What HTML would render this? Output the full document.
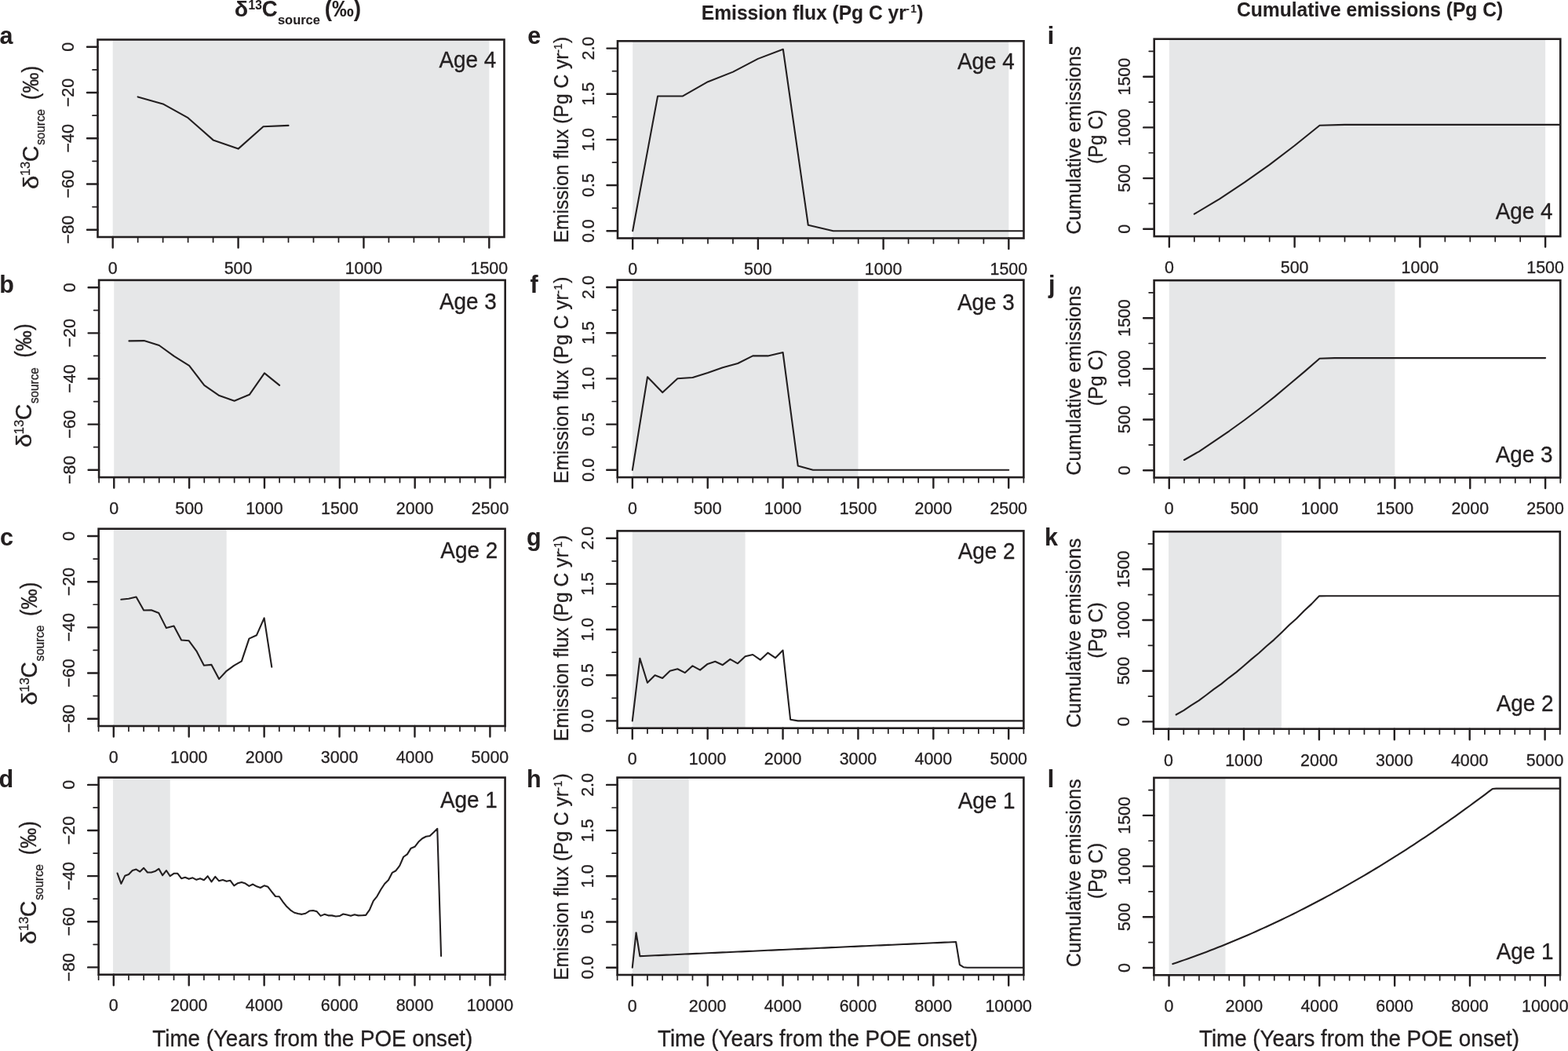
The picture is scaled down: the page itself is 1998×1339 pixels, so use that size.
<!DOCTYPE html>
<html><head><meta charset="utf-8"><title>Figure</title>
<style>html,body{margin:0;padding:0;background:#fff;}svg{display:block;}text{font-family:"Liberation Sans",Arial,Helvetica,sans-serif;fill:#231f20;stroke:#231f20;stroke-width:0.3px;}text[font-weight=bold]{stroke-width:0.1px;}</style>
</head><body>
<svg width="1998" height="1339" viewBox="0 0 1998 1339">
<rect width="1998" height="1339" fill="#fff"/>
<clipPath id="clipa"><rect x="124.5" y="50.5" width="518" height="251.5"/></clipPath>
<rect x="143.69" y="50.5" width="479.63" height="251.5" fill="#e6e7e8"/>
<polyline clip-path="url(#clipa)" points="175.66,123.4 207.64,132.4 239.61,150.2 271.59,178.4 303.56,189.6 335.54,161.2 367.51,159.9" fill="none" stroke="#231f20" stroke-width="2.1" stroke-linejoin="round" stroke-linecap="round"/>
<rect x="124.5" y="50.5" width="518" height="251.5" fill="none" stroke="#231f20" stroke-width="2.6"/>
<path d="M143.69 302V315.5M303.56 302V315.5M463.44 302V315.5M623.31 302V315.5M124.5 59.81H111M124.5 118.03H111M124.5 176.25H111M124.5 234.47H111M124.5 292.69H111" stroke="#231f20" stroke-width="2.4" stroke-linecap="round" fill="none"/>
<path d="M175.66 302V308.5M207.64 302V308.5M239.61 302V308.5M271.59 302V308.5M335.54 302V308.5M367.51 302V308.5M399.49 302V308.5M431.46 302V308.5M495.41 302V308.5M527.39 302V308.5M559.36 302V308.5M591.34 302V308.5M124.5 88.92H118M124.5 147.14H118M124.5 205.36H118M124.5 263.58H118" stroke="#231f20" stroke-width="1.7" stroke-linecap="round" fill="none"/>
<text x="143.69" y="349.1" font-size="21.4" text-anchor="middle" transform="matrix(1 0 0 1.040 0 -13.96)">0</text>
<text x="303.56" y="349.1" font-size="21.4" text-anchor="middle" transform="matrix(1 0 0 1.040 0 -13.96)">500</text>
<text x="463.44" y="349.1" font-size="21.4" text-anchor="middle" transform="matrix(1 0 0 1.040 0 -13.96)">1000</text>
<text x="623.31" y="349.1" font-size="21.4" text-anchor="middle" transform="matrix(1 0 0 1.040 0 -13.96)">1500</text>
<g transform="translate(94.3 59.81) rotate(-90)"><text x="0" y="0" font-size="21.4" text-anchor="middle" transform="matrix(1 0 0 1.040 0 -0)">0</text></g>
<g transform="translate(94.3 118.03) rotate(-90)"><text x="0" y="0" font-size="21.4" text-anchor="middle" transform="matrix(1 0 0 1.040 0 -0)">−20</text></g>
<g transform="translate(94.3 176.25) rotate(-90)"><text x="0" y="0" font-size="21.4" text-anchor="middle" transform="matrix(1 0 0 1.040 0 -0)">−40</text></g>
<g transform="translate(94.3 234.47) rotate(-90)"><text x="0" y="0" font-size="21.4" text-anchor="middle" transform="matrix(1 0 0 1.040 0 -0)">−60</text></g>
<g transform="translate(94.3 292.69) rotate(-90)"><text x="0" y="0" font-size="21.4" text-anchor="middle" transform="matrix(1 0 0 1.040 0 -0)">−80</text></g>
<text x="559.45" y="85.7" font-size="27.9" transform="matrix(1 0 0 1.040 0 -3.43)">Age 4</text>
<clipPath id="clipb"><rect x="126.1" y="356.9" width="517.6" height="251.2"/></clipPath>
<rect x="145.27" y="356.9" width="287.56" height="251.2" fill="#e6e7e8"/>
<polyline clip-path="url(#clipb)" points="164.44,434.4 183.61,434.1 202.78,440 221.95,453.9 241.12,465.8 260.29,490.9 279.46,504.1 298.63,510.7 317.8,502.8 336.97,475.4 356.14,490.9" fill="none" stroke="#231f20" stroke-width="2.1" stroke-linejoin="round" stroke-linecap="round"/>
<rect x="126.1" y="356.9" width="517.6" height="251.2" fill="none" stroke="#231f20" stroke-width="2.6"/>
<path d="M145.27 608.1V621.6M241.12 608.1V621.6M336.97 608.1V621.6M432.83 608.1V621.6M528.68 608.1V621.6M624.53 608.1V621.6M126.1 366.2H112.6M126.1 424.35H112.6M126.1 482.5H112.6M126.1 540.65H112.6M126.1 598.8H112.6" stroke="#231f20" stroke-width="2.4" stroke-linecap="round" fill="none"/>
<path d="M126.1 608.1V614.6M164.44 608.1V614.6M183.61 608.1V614.6M202.78 608.1V614.6M221.95 608.1V614.6M260.29 608.1V614.6M279.46 608.1V614.6M298.63 608.1V614.6M317.8 608.1V614.6M356.14 608.1V614.6M375.31 608.1V614.6M394.49 608.1V614.6M413.66 608.1V614.6M452 608.1V614.6M471.17 608.1V614.6M490.34 608.1V614.6M509.51 608.1V614.6M547.85 608.1V614.6M567.02 608.1V614.6M586.19 608.1V614.6M605.36 608.1V614.6M643.7 608.1V614.6M126.1 395.28H119.6M126.1 453.43H119.6M126.1 511.57H119.6M126.1 569.72H119.6" stroke="#231f20" stroke-width="1.7" stroke-linecap="round" fill="none"/>
<text x="145.27" y="655.1" font-size="21.4" text-anchor="middle" transform="matrix(1 0 0 1.040 0 -26.2)">0</text>
<text x="241.12" y="655.1" font-size="21.4" text-anchor="middle" transform="matrix(1 0 0 1.040 0 -26.2)">500</text>
<text x="336.97" y="655.1" font-size="21.4" text-anchor="middle" transform="matrix(1 0 0 1.040 0 -26.2)">1000</text>
<text x="432.83" y="655.1" font-size="21.4" text-anchor="middle" transform="matrix(1 0 0 1.040 0 -26.2)">1500</text>
<text x="528.68" y="655.1" font-size="21.4" text-anchor="middle" transform="matrix(1 0 0 1.040 0 -26.2)">2000</text>
<text x="624.53" y="655.1" font-size="21.4" text-anchor="middle" transform="matrix(1 0 0 1.040 0 -26.2)">2500</text>
<g transform="translate(95.9 366.2) rotate(-90)"><text x="0" y="0" font-size="21.4" text-anchor="middle" transform="matrix(1 0 0 1.040 0 -0)">0</text></g>
<g transform="translate(95.9 424.35) rotate(-90)"><text x="0" y="0" font-size="21.4" text-anchor="middle" transform="matrix(1 0 0 1.040 0 -0)">−20</text></g>
<g transform="translate(95.9 482.5) rotate(-90)"><text x="0" y="0" font-size="21.4" text-anchor="middle" transform="matrix(1 0 0 1.040 0 -0)">−40</text></g>
<g transform="translate(95.9 540.65) rotate(-90)"><text x="0" y="0" font-size="21.4" text-anchor="middle" transform="matrix(1 0 0 1.040 0 -0)">−60</text></g>
<g transform="translate(95.9 598.8) rotate(-90)"><text x="0" y="0" font-size="21.4" text-anchor="middle" transform="matrix(1 0 0 1.040 0 -0)">−80</text></g>
<text x="559.95" y="394.4" font-size="27.9" transform="matrix(1 0 0 1.040 0 -15.78)">Age 3</text>
<clipPath id="clipc"><rect x="125.6" y="673.7" width="518" height="251.3"/></clipPath>
<rect x="144.79" y="673.7" width="143.89" height="251.3" fill="#e6e7e8"/>
<polyline clip-path="url(#clipc)" points="154.38,763.8 163.97,762.7 173.56,760.5 183.16,777.5 192.75,777.3 202.34,781.1 211.93,800.1 221.53,797.6 231.12,815.5 240.71,816.3 250.3,829.3 259.9,847.8 269.49,846.9 279.08,865.1 288.67,854.8 298.27,847.8 307.86,842.3 317.45,813.6 327.04,809.2 336.64,787.4 346.23,849.6" fill="none" stroke="#231f20" stroke-width="2.1" stroke-linejoin="round" stroke-linecap="round"/>
<rect x="125.6" y="673.7" width="518" height="251.3" fill="none" stroke="#231f20" stroke-width="2.6"/>
<path d="M144.79 925V938.5M240.71 925V938.5M336.64 925V938.5M432.56 925V938.5M528.49 925V938.5M624.41 925V938.5M125.6 683.01H112.1M125.6 741.18H112.1M125.6 799.35H112.1M125.6 857.52H112.1M125.6 915.69H112.1" stroke="#231f20" stroke-width="2.4" stroke-linecap="round" fill="none"/>
<path d="M125.6 925V931.5M163.97 925V931.5M183.16 925V931.5M202.34 925V931.5M221.53 925V931.5M259.9 925V931.5M279.08 925V931.5M298.27 925V931.5M317.45 925V931.5M355.82 925V931.5M375.01 925V931.5M394.19 925V931.5M413.38 925V931.5M451.75 925V931.5M470.93 925V931.5M490.12 925V931.5M509.3 925V931.5M547.67 925V931.5M566.86 925V931.5M586.04 925V931.5M605.23 925V931.5M643.6 925V931.5M125.6 712.09H119.1M125.6 770.26H119.1M125.6 828.44H119.1M125.6 886.61H119.1" stroke="#231f20" stroke-width="1.7" stroke-linecap="round" fill="none"/>
<text x="144.79" y="972" font-size="21.4" text-anchor="middle" transform="matrix(1 0 0 1.040 0 -38.88)">0</text>
<text x="240.71" y="972" font-size="21.4" text-anchor="middle" transform="matrix(1 0 0 1.040 0 -38.88)">1000</text>
<text x="336.64" y="972" font-size="21.4" text-anchor="middle" transform="matrix(1 0 0 1.040 0 -38.88)">2000</text>
<text x="432.56" y="972" font-size="21.4" text-anchor="middle" transform="matrix(1 0 0 1.040 0 -38.88)">3000</text>
<text x="528.49" y="972" font-size="21.4" text-anchor="middle" transform="matrix(1 0 0 1.040 0 -38.88)">4000</text>
<text x="624.41" y="972" font-size="21.4" text-anchor="middle" transform="matrix(1 0 0 1.040 0 -38.88)">5000</text>
<g transform="translate(95.4 683.01) rotate(-90)"><text x="0" y="0" font-size="21.4" text-anchor="middle" transform="matrix(1 0 0 1.040 0 -0)">0</text></g>
<g transform="translate(95.4 741.18) rotate(-90)"><text x="0" y="0" font-size="21.4" text-anchor="middle" transform="matrix(1 0 0 1.040 0 -0)">−20</text></g>
<g transform="translate(95.4 799.35) rotate(-90)"><text x="0" y="0" font-size="21.4" text-anchor="middle" transform="matrix(1 0 0 1.040 0 -0)">−40</text></g>
<g transform="translate(95.4 857.52) rotate(-90)"><text x="0" y="0" font-size="21.4" text-anchor="middle" transform="matrix(1 0 0 1.040 0 -0)">−60</text></g>
<g transform="translate(95.4 915.69) rotate(-90)"><text x="0" y="0" font-size="21.4" text-anchor="middle" transform="matrix(1 0 0 1.040 0 -0)">−80</text></g>
<text x="561.35" y="711.1" font-size="27.9" transform="matrix(1 0 0 1.040 0 -28.44)">Age 2</text>
<clipPath id="clipd"><rect x="125.6" y="990.6" width="518" height="251.1"/></clipPath>
<rect x="144" y="990.6" width="72.73" height="251.1" fill="#e6e7e8"/>
<polyline clip-path="url(#clipd)" points="149.58,1112.52 154.38,1125.84 159.17,1115.83 163.97,1114.02 168.77,1109.02 173.56,1107.52 178.36,1110.52 183.16,1105.82 187.95,1111.52 192.75,1111.52 197.54,1110.02 202.34,1106.82 207.14,1115.23 211.93,1109.02 216.73,1116.23 221.53,1112.82 226.32,1112.82 231.12,1119.23 235.91,1117.83 240.71,1119.83 245.51,1118.33 250.3,1120.83 255.1,1119.33 259.9,1121.23 264.69,1116.23 269.49,1123.33 274.29,1116.83 279.08,1122.33 283.88,1121.03 288.67,1122.83 293.47,1121.83 298.27,1128.34 303.06,1125.24 307.86,1124.03 312.66,1125.54 317.45,1128.84 322.25,1126.54 327.04,1129.34 331.84,1131.04 336.64,1128.34 341.43,1129.82 346.23,1136.03 351.03,1142.03 355.82,1142.23 360.62,1149.04 365.41,1155.05 370.21,1159.55 375.01,1162.75 379.8,1164.05 384.6,1164.85 389.4,1163.75 394.19,1160.55 398.99,1160.05 403.79,1161.35 408.58,1166.86 413.38,1164.85 418.17,1166.36 422.97,1166.36 427.77,1167.56 432.56,1167.06 437.36,1164.55 442.16,1165.56 446.95,1166.86 451.75,1165.26 456.54,1166.36 461.34,1166.26 466.14,1165.86 470.93,1159.05 475.73,1147.84 480.53,1141.83 485.32,1133.22 490.12,1126.02 494.91,1121.32 499.71,1111.91 504.51,1109.22 509.3,1102.84 514.1,1091.75 518.9,1088.39 523.69,1080.66 528.49,1078.84 533.29,1072.59 538.08,1068.23 542.88,1065.74 547.67,1065 552.47,1060.5 557.27,1055.79 562.06,1217.9" fill="none" stroke="#231f20" stroke-width="2.1" stroke-linejoin="round" stroke-linecap="round"/>
<rect x="125.6" y="990.6" width="518" height="251.1" fill="none" stroke="#231f20" stroke-width="2.6"/>
<path d="M144.79 1241.7V1255.2M240.71 1241.7V1255.2M336.64 1241.7V1255.2M432.56 1241.7V1255.2M528.49 1241.7V1255.2M624.41 1241.7V1255.2M125.6 999.9H112.1M125.6 1058.03H112.1M125.6 1116.15H112.1M125.6 1174.28H112.1M125.6 1232.4H112.1" stroke="#231f20" stroke-width="2.4" stroke-linecap="round" fill="none"/>
<path d="M125.6 1241.7V1248.2M163.97 1241.7V1248.2M183.16 1241.7V1248.2M202.34 1241.7V1248.2M221.53 1241.7V1248.2M259.9 1241.7V1248.2M279.08 1241.7V1248.2M298.27 1241.7V1248.2M317.45 1241.7V1248.2M355.82 1241.7V1248.2M375.01 1241.7V1248.2M394.19 1241.7V1248.2M413.38 1241.7V1248.2M451.75 1241.7V1248.2M470.93 1241.7V1248.2M490.12 1241.7V1248.2M509.3 1241.7V1248.2M547.67 1241.7V1248.2M566.86 1241.7V1248.2M586.04 1241.7V1248.2M605.23 1241.7V1248.2M643.6 1241.7V1248.2M125.6 1028.96H119.1M125.6 1087.09H119.1M125.6 1145.21H119.1M125.6 1203.34H119.1" stroke="#231f20" stroke-width="1.7" stroke-linecap="round" fill="none"/>
<text x="144.79" y="1288.1" font-size="21.4" text-anchor="middle" transform="matrix(1 0 0 1.040 0 -51.52)">0</text>
<text x="240.71" y="1288.1" font-size="21.4" text-anchor="middle" transform="matrix(1 0 0 1.040 0 -51.52)">2000</text>
<text x="336.64" y="1288.1" font-size="21.4" text-anchor="middle" transform="matrix(1 0 0 1.040 0 -51.52)">4000</text>
<text x="432.56" y="1288.1" font-size="21.4" text-anchor="middle" transform="matrix(1 0 0 1.040 0 -51.52)">6000</text>
<text x="528.49" y="1288.1" font-size="21.4" text-anchor="middle" transform="matrix(1 0 0 1.040 0 -51.52)">8000</text>
<text x="624.41" y="1288.1" font-size="21.4" text-anchor="middle" transform="matrix(1 0 0 1.040 0 -51.52)">10000</text>
<g transform="translate(95.4 999.9) rotate(-90)"><text x="0" y="0" font-size="21.4" text-anchor="middle" transform="matrix(1 0 0 1.040 0 -0)">0</text></g>
<g transform="translate(95.4 1058.03) rotate(-90)"><text x="0" y="0" font-size="21.4" text-anchor="middle" transform="matrix(1 0 0 1.040 0 -0)">−20</text></g>
<g transform="translate(95.4 1116.15) rotate(-90)"><text x="0" y="0" font-size="21.4" text-anchor="middle" transform="matrix(1 0 0 1.040 0 -0)">−40</text></g>
<g transform="translate(95.4 1174.28) rotate(-90)"><text x="0" y="0" font-size="21.4" text-anchor="middle" transform="matrix(1 0 0 1.040 0 -0)">−60</text></g>
<g transform="translate(95.4 1232.4) rotate(-90)"><text x="0" y="0" font-size="21.4" text-anchor="middle" transform="matrix(1 0 0 1.040 0 -0)">−80</text></g>
<text x="560.95" y="1028.9" font-size="27.9" transform="matrix(1 0 0 1.040 0 -41.16)">Age 1</text>
<clipPath id="clipe"><rect x="787" y="52.3" width="517.5" height="251.2"/></clipPath>
<rect x="806.17" y="52.3" width="479.17" height="251.2" fill="#e6e7e8"/>
<polyline clip-path="url(#clipe)" points="806.17,294.2 838.11,122.43 870.06,122.43 902,104.17 933.94,91.61 965.89,74.86 997.83,62.77 1029.78,286.75 1061.72,294.2 1093.67,294.2 1125.61,294.2 1157.56,294.2 1189.5,294.2 1221.44,294.2 1253.39,294.2 1285.33,294.2 1317.28,294.2 1349.22,294.2 1381.17,294.2 1413.11,294.2 1445.06,294.2 1477,294.2 1508.94,294.2 1540.89,294.2 1572.83,294.2 1604.78,294.2" fill="none" stroke="#231f20" stroke-width="2.1" stroke-linejoin="round" stroke-linecap="round"/>
<rect x="787" y="52.3" width="517.5" height="251.2" fill="none" stroke="#231f20" stroke-width="2.6"/>
<path d="M806.17 303.5V317M965.89 303.5V317M1125.61 303.5V317M1285.33 303.5V317M787 294.2H773.5M787 236.05H773.5M787 177.9H773.5M787 119.75H773.5M787 61.6H773.5" stroke="#231f20" stroke-width="2.4" stroke-linecap="round" fill="none"/>
<path d="M838.11 303.5V310M870.06 303.5V310M902 303.5V310M933.94 303.5V310M997.83 303.5V310M1029.78 303.5V310M1061.72 303.5V310M1093.67 303.5V310M1157.56 303.5V310M1189.5 303.5V310M1221.44 303.5V310M1253.39 303.5V310M787 265.12H780.5M787 206.97H780.5M787 148.83H780.5M787 90.68H780.5" stroke="#231f20" stroke-width="1.7" stroke-linecap="round" fill="none"/>
<text x="806.17" y="349.8" font-size="21.4" text-anchor="middle" transform="matrix(1 0 0 1.040 0 -13.99)">0</text>
<text x="965.89" y="349.8" font-size="21.4" text-anchor="middle" transform="matrix(1 0 0 1.040 0 -13.99)">500</text>
<text x="1125.61" y="349.8" font-size="21.4" text-anchor="middle" transform="matrix(1 0 0 1.040 0 -13.99)">1000</text>
<text x="1285.33" y="349.8" font-size="21.4" text-anchor="middle" transform="matrix(1 0 0 1.040 0 -13.99)">1500</text>
<g transform="translate(756.8 294.2) rotate(-90)"><text x="0" y="0" font-size="21.4" text-anchor="middle" transform="matrix(1 0 0 1.040 0 -0)">0.0</text></g>
<g transform="translate(756.8 236.05) rotate(-90)"><text x="0" y="0" font-size="21.4" text-anchor="middle" transform="matrix(1 0 0 1.040 0 -0)">0.5</text></g>
<g transform="translate(756.8 177.9) rotate(-90)"><text x="0" y="0" font-size="21.4" text-anchor="middle" transform="matrix(1 0 0 1.040 0 -0)">1.0</text></g>
<g transform="translate(756.8 119.75) rotate(-90)"><text x="0" y="0" font-size="21.4" text-anchor="middle" transform="matrix(1 0 0 1.040 0 -0)">1.5</text></g>
<g transform="translate(756.8 61.6) rotate(-90)"><text x="0" y="0" font-size="21.4" text-anchor="middle" transform="matrix(1 0 0 1.040 0 -0)">2.0</text></g>
<text x="1219.95" y="87.9" font-size="27.9" transform="matrix(1 0 0 1.040 0 -3.52)">Age 4</text>
<clipPath id="clipf"><rect x="786.7" y="356.7" width="517.7" height="251.4"/></clipPath>
<rect x="805.87" y="356.7" width="287.61" height="251.4" fill="#e6e7e8"/>
<polyline clip-path="url(#clipf)" points="805.87,598.79 825.05,480.19 844.22,500.09 863.4,482.28 882.57,481 901.74,474.95 920.92,468.32 940.09,462.96 959.27,453.42 978.44,453.42 997.61,449 1016.79,593.55 1035.96,598.79 1055.14,598.79 1074.31,598.79 1093.49,598.79 1112.66,598.79 1131.83,598.79 1151.01,598.79 1170.18,598.79 1189.36,598.79 1208.53,598.79 1227.7,598.79 1246.88,598.79 1266.05,598.79 1285.23,598.79" fill="none" stroke="#231f20" stroke-width="2.1" stroke-linejoin="round" stroke-linecap="round"/>
<rect x="786.7" y="356.7" width="517.7" height="251.4" fill="none" stroke="#231f20" stroke-width="2.6"/>
<path d="M805.87 608.1V621.6M901.74 608.1V621.6M997.61 608.1V621.6M1093.49 608.1V621.6M1189.36 608.1V621.6M1285.23 608.1V621.6M786.7 598.79H773.2M786.7 540.59H773.2M786.7 482.4H773.2M786.7 424.21H773.2M786.7 366.01H773.2" stroke="#231f20" stroke-width="2.4" stroke-linecap="round" fill="none"/>
<path d="M786.7 608.1V614.6M825.05 608.1V614.6M844.22 608.1V614.6M863.4 608.1V614.6M882.57 608.1V614.6M920.92 608.1V614.6M940.09 608.1V614.6M959.27 608.1V614.6M978.44 608.1V614.6M1016.79 608.1V614.6M1035.96 608.1V614.6M1055.14 608.1V614.6M1074.31 608.1V614.6M1112.66 608.1V614.6M1131.83 608.1V614.6M1151.01 608.1V614.6M1170.18 608.1V614.6M1208.53 608.1V614.6M1227.7 608.1V614.6M1246.88 608.1V614.6M1266.05 608.1V614.6M1304.4 608.1V614.6M786.7 569.69H780.2M786.7 511.5H780.2M786.7 453.3H780.2M786.7 395.11H780.2" stroke="#231f20" stroke-width="1.7" stroke-linecap="round" fill="none"/>
<text x="805.87" y="655.1" font-size="21.4" text-anchor="middle" transform="matrix(1 0 0 1.040 0 -26.2)">0</text>
<text x="901.74" y="655.1" font-size="21.4" text-anchor="middle" transform="matrix(1 0 0 1.040 0 -26.2)">500</text>
<text x="997.61" y="655.1" font-size="21.4" text-anchor="middle" transform="matrix(1 0 0 1.040 0 -26.2)">1000</text>
<text x="1093.49" y="655.1" font-size="21.4" text-anchor="middle" transform="matrix(1 0 0 1.040 0 -26.2)">1500</text>
<text x="1189.36" y="655.1" font-size="21.4" text-anchor="middle" transform="matrix(1 0 0 1.040 0 -26.2)">2000</text>
<text x="1285.23" y="655.1" font-size="21.4" text-anchor="middle" transform="matrix(1 0 0 1.040 0 -26.2)">2500</text>
<g transform="translate(756.5 598.79) rotate(-90)"><text x="0" y="0" font-size="21.4" text-anchor="middle" transform="matrix(1 0 0 1.040 0 -0)">0.0</text></g>
<g transform="translate(756.5 540.59) rotate(-90)"><text x="0" y="0" font-size="21.4" text-anchor="middle" transform="matrix(1 0 0 1.040 0 -0)">0.5</text></g>
<g transform="translate(756.5 482.4) rotate(-90)"><text x="0" y="0" font-size="21.4" text-anchor="middle" transform="matrix(1 0 0 1.040 0 -0)">1.0</text></g>
<g transform="translate(756.5 424.21) rotate(-90)"><text x="0" y="0" font-size="21.4" text-anchor="middle" transform="matrix(1 0 0 1.040 0 -0)">1.5</text></g>
<g transform="translate(756.5 366.01) rotate(-90)"><text x="0" y="0" font-size="21.4" text-anchor="middle" transform="matrix(1 0 0 1.040 0 -0)">2.0</text></g>
<text x="1219.95" y="395.4" font-size="27.9" transform="matrix(1 0 0 1.040 0 -15.82)">Age 3</text>
<clipPath id="clipg"><rect x="786.6" y="676.4" width="517.8" height="251.3"/></clipPath>
<rect x="805.78" y="676.4" width="143.83" height="251.3" fill="#e6e7e8"/>
<polyline clip-path="url(#clipg)" points="805.78,918.39 815.37,838.7 824.96,869.8 834.54,860.2 844.13,864 853.72,854.7 863.31,852.2 872.9,857.1 882.49,848.3 892.08,853.6 901.67,845.9 911.26,842.8 920.84,847.2 930.43,839.8 940.02,845.3 949.61,836.3 959.2,834 968.79,840.7 978.38,831.7 987.97,838.2 997.56,828.6 1007.14,916.7 1016.73,918.39 1026.32,918.39 1035.91,918.39 1045.5,918.39 1055.09,918.39 1064.68,918.39 1074.27,918.39 1083.86,918.39 1093.44,918.39 1103.03,918.39 1112.62,918.39 1122.21,918.39 1131.8,918.39 1141.39,918.39 1150.98,918.39 1160.57,918.39 1170.16,918.39 1179.74,918.39 1189.33,918.39 1198.92,918.39 1208.51,918.39 1218.1,918.39 1227.69,918.39 1237.28,918.39 1246.87,918.39 1256.46,918.39 1266.04,918.39 1275.63,918.39 1285.22,918.39 1294.81,918.39 1304.4,918.39 1313.99,918.39 1323.58,918.39 1333.17,918.39" fill="none" stroke="#231f20" stroke-width="2.1" stroke-linejoin="round" stroke-linecap="round"/>
<rect x="786.6" y="676.4" width="517.8" height="251.3" fill="none" stroke="#231f20" stroke-width="2.6"/>
<path d="M805.78 927.7V941.2M901.67 927.7V941.2M997.56 927.7V941.2M1093.44 927.7V941.2M1189.33 927.7V941.2M1285.22 927.7V941.2M786.6 918.39H773.1M786.6 860.22H773.1M786.6 802.05H773.1M786.6 743.88H773.1M786.6 685.71H773.1" stroke="#231f20" stroke-width="2.4" stroke-linecap="round" fill="none"/>
<path d="M786.6 927.7V934.2M824.96 927.7V934.2M844.13 927.7V934.2M863.31 927.7V934.2M882.49 927.7V934.2M920.84 927.7V934.2M940.02 927.7V934.2M959.2 927.7V934.2M978.38 927.7V934.2M1016.73 927.7V934.2M1035.91 927.7V934.2M1055.09 927.7V934.2M1074.27 927.7V934.2M1112.62 927.7V934.2M1131.8 927.7V934.2M1150.98 927.7V934.2M1170.16 927.7V934.2M1208.51 927.7V934.2M1227.69 927.7V934.2M1246.87 927.7V934.2M1266.04 927.7V934.2M1304.4 927.7V934.2M786.6 889.31H780.1M786.6 831.14H780.1M786.6 772.96H780.1M786.6 714.79H780.1" stroke="#231f20" stroke-width="1.7" stroke-linecap="round" fill="none"/>
<text x="805.78" y="974.2" font-size="21.4" text-anchor="middle" transform="matrix(1 0 0 1.040 0 -38.97)">0</text>
<text x="901.67" y="974.2" font-size="21.4" text-anchor="middle" transform="matrix(1 0 0 1.040 0 -38.97)">1000</text>
<text x="997.56" y="974.2" font-size="21.4" text-anchor="middle" transform="matrix(1 0 0 1.040 0 -38.97)">2000</text>
<text x="1093.44" y="974.2" font-size="21.4" text-anchor="middle" transform="matrix(1 0 0 1.040 0 -38.97)">3000</text>
<text x="1189.33" y="974.2" font-size="21.4" text-anchor="middle" transform="matrix(1 0 0 1.040 0 -38.97)">4000</text>
<text x="1285.22" y="974.2" font-size="21.4" text-anchor="middle" transform="matrix(1 0 0 1.040 0 -38.97)">5000</text>
<g transform="translate(756.4 918.39) rotate(-90)"><text x="0" y="0" font-size="21.4" text-anchor="middle" transform="matrix(1 0 0 1.040 0 -0)">0.0</text></g>
<g transform="translate(756.4 860.22) rotate(-90)"><text x="0" y="0" font-size="21.4" text-anchor="middle" transform="matrix(1 0 0 1.040 0 -0)">0.5</text></g>
<g transform="translate(756.4 802.05) rotate(-90)"><text x="0" y="0" font-size="21.4" text-anchor="middle" transform="matrix(1 0 0 1.040 0 -0)">1.0</text></g>
<g transform="translate(756.4 743.88) rotate(-90)"><text x="0" y="0" font-size="21.4" text-anchor="middle" transform="matrix(1 0 0 1.040 0 -0)">1.5</text></g>
<g transform="translate(756.4 685.71) rotate(-90)"><text x="0" y="0" font-size="21.4" text-anchor="middle" transform="matrix(1 0 0 1.040 0 -0)">2.0</text></g>
<text x="1220.65" y="712" font-size="27.9" transform="matrix(1 0 0 1.040 0 -28.48)">Age 2</text>
<clipPath id="cliph"><rect x="786.6" y="990.6" width="517.8" height="251.4"/></clipPath>
<rect x="805.78" y="990.6" width="71.92" height="251.4" fill="#e6e7e8"/>
<polyline clip-path="url(#cliph)" points="805.78,1232.69 810.57,1188.23 815.37,1218.16 820.16,1217.95 824.96,1217.73 829.75,1217.52 834.54,1217.3 839.34,1217.08 844.13,1216.87 848.93,1216.65 853.72,1216.44 858.52,1216.22 863.31,1216 868.11,1215.79 872.9,1215.57 877.69,1215.36 882.49,1215.14 887.28,1214.92 892.08,1214.71 896.87,1214.49 901.67,1214.28 906.46,1214.06 911.26,1213.84 916.05,1213.63 920.84,1213.41 925.64,1213.2 930.43,1212.98 935.23,1212.76 940.02,1212.55 944.82,1212.33 949.61,1212.12 954.41,1211.9 959.2,1211.68 963.99,1211.47 968.79,1211.25 973.58,1211.04 978.38,1210.82 983.17,1210.6 987.97,1210.39 992.76,1210.17 997.56,1209.96 1002.35,1209.74 1007.14,1209.52 1011.94,1209.31 1016.73,1209.09 1021.53,1208.88 1026.32,1208.66 1031.12,1208.44 1035.91,1208.23 1040.71,1208.01 1045.5,1207.79 1050.29,1207.58 1055.09,1207.36 1059.88,1207.15 1064.68,1206.93 1069.47,1206.71 1074.27,1206.5 1079.06,1206.28 1083.86,1206.07 1088.65,1205.85 1093.44,1205.63 1098.24,1205.42 1103.03,1205.2 1107.83,1204.99 1112.62,1204.77 1117.42,1204.55 1122.21,1204.34 1127.01,1204.12 1131.8,1203.91 1136.59,1203.69 1141.39,1203.47 1146.18,1203.26 1150.98,1203.04 1155.77,1202.83 1160.57,1202.61 1165.36,1202.39 1170.16,1202.18 1174.95,1201.96 1179.74,1201.75 1184.54,1201.53 1189.33,1201.31 1194.13,1201.1 1198.92,1200.88 1203.72,1200.67 1208.51,1200.45 1213.31,1200.23 1218.1,1200.02 1222.89,1229.2 1227.69,1232.22 1232.48,1232.69 1237.28,1232.69 1242.07,1232.69 1246.87,1232.69 1251.66,1232.69 1256.46,1232.69 1261.25,1232.69 1266.04,1232.69 1270.84,1232.69 1275.63,1232.69 1280.43,1232.69 1285.22,1232.69 1290.02,1232.69 1294.81,1232.69 1299.61,1232.69 1304.4,1232.69 1309.19,1232.69" fill="none" stroke="#231f20" stroke-width="2.1" stroke-linejoin="round" stroke-linecap="round"/>
<rect x="786.6" y="990.6" width="517.8" height="251.4" fill="none" stroke="#231f20" stroke-width="2.6"/>
<path d="M805.78 1242V1255.5M901.67 1242V1255.5M997.56 1242V1255.5M1093.44 1242V1255.5M1189.33 1242V1255.5M1285.22 1242V1255.5M786.6 1232.69H773.1M786.6 1174.49H773.1M786.6 1116.3H773.1M786.6 1058.11H773.1M786.6 999.91H773.1" stroke="#231f20" stroke-width="2.4" stroke-linecap="round" fill="none"/>
<path d="M786.6 1242V1248.5M824.96 1242V1248.5M844.13 1242V1248.5M863.31 1242V1248.5M882.49 1242V1248.5M920.84 1242V1248.5M940.02 1242V1248.5M959.2 1242V1248.5M978.38 1242V1248.5M1016.73 1242V1248.5M1035.91 1242V1248.5M1055.09 1242V1248.5M1074.27 1242V1248.5M1112.62 1242V1248.5M1131.8 1242V1248.5M1150.98 1242V1248.5M1170.16 1242V1248.5M1208.51 1242V1248.5M1227.69 1242V1248.5M1246.87 1242V1248.5M1266.04 1242V1248.5M1304.4 1242V1248.5M786.6 1203.59H780.1M786.6 1145.4H780.1M786.6 1087.2H780.1M786.6 1029.01H780.1" stroke="#231f20" stroke-width="1.7" stroke-linecap="round" fill="none"/>
<text x="805.78" y="1289.2" font-size="21.4" text-anchor="middle" transform="matrix(1 0 0 1.040 0 -51.57)">0</text>
<text x="901.67" y="1289.2" font-size="21.4" text-anchor="middle" transform="matrix(1 0 0 1.040 0 -51.57)">2000</text>
<text x="997.56" y="1289.2" font-size="21.4" text-anchor="middle" transform="matrix(1 0 0 1.040 0 -51.57)">4000</text>
<text x="1093.44" y="1289.2" font-size="21.4" text-anchor="middle" transform="matrix(1 0 0 1.040 0 -51.57)">6000</text>
<text x="1189.33" y="1289.2" font-size="21.4" text-anchor="middle" transform="matrix(1 0 0 1.040 0 -51.57)">8000</text>
<text x="1285.22" y="1289.2" font-size="21.4" text-anchor="middle" transform="matrix(1 0 0 1.040 0 -51.57)">10000</text>
<g transform="translate(756.4 1232.69) rotate(-90)"><text x="0" y="0" font-size="21.4" text-anchor="middle" transform="matrix(1 0 0 1.040 0 -0)">0.0</text></g>
<g transform="translate(756.4 1174.49) rotate(-90)"><text x="0" y="0" font-size="21.4" text-anchor="middle" transform="matrix(1 0 0 1.040 0 -0)">0.5</text></g>
<g transform="translate(756.4 1116.3) rotate(-90)"><text x="0" y="0" font-size="21.4" text-anchor="middle" transform="matrix(1 0 0 1.040 0 -0)">1.0</text></g>
<g transform="translate(756.4 1058.11) rotate(-90)"><text x="0" y="0" font-size="21.4" text-anchor="middle" transform="matrix(1 0 0 1.040 0 -0)">1.5</text></g>
<g transform="translate(756.4 999.91) rotate(-90)"><text x="0" y="0" font-size="21.4" text-anchor="middle" transform="matrix(1 0 0 1.040 0 -0)">2.0</text></g>
<text x="1220.65" y="1030.3" font-size="27.9" transform="matrix(1 0 0 1.040 0 -41.21)">Age 1</text>
<clipPath id="clipi"><rect x="1470.7" y="49.7" width="517.6" height="251.4"/></clipPath>
<rect x="1489.87" y="49.7" width="479.26" height="251.4" fill="#e6e7e8"/>
<polyline clip-path="url(#clipi)" points="1521.82,272.68 1553.77,253.57 1585.72,232.42 1617.67,209.88 1649.62,185.48 1681.57,159.73 1713.52,158.9 1745.48,158.9 1777.43,158.9 1809.38,158.9 1841.33,158.9 1873.28,158.9 1905.23,158.9 1937.18,158.9 1969.13,158.9 2001.08,158.9 2033.03,158.9 2064.98,158.9 2096.93,158.9 2128.88,158.9 2160.83,158.9 2192.78,158.9 2224.73,158.9 2256.69,158.9 2288.64,158.9" fill="none" stroke="#231f20" stroke-width="2.1" stroke-linejoin="round" stroke-linecap="round"/>
<rect x="1470.7" y="49.7" width="517.6" height="251.4" fill="none" stroke="#231f20" stroke-width="2.6"/>
<path d="M1489.87 301.1V314.6M1649.62 301.1V314.6M1809.38 301.1V314.6M1969.13 301.1V314.6M1470.7 291.79H1457.2M1470.7 227.09H1457.2M1470.7 162.4H1457.2M1470.7 97.7H1457.2" stroke="#231f20" stroke-width="2.4" stroke-linecap="round" fill="none"/>
<path d="M1521.82 301.1V307.6M1553.77 301.1V307.6M1585.72 301.1V307.6M1617.67 301.1V307.6M1681.57 301.1V307.6M1713.52 301.1V307.6M1745.48 301.1V307.6M1777.43 301.1V307.6M1841.33 301.1V307.6M1873.28 301.1V307.6M1905.23 301.1V307.6M1937.18 301.1V307.6M1470.7 259.44H1464.2M1470.7 194.74H1464.2M1470.7 130.05H1464.2M1470.7 65.35H1464.2" stroke="#231f20" stroke-width="1.7" stroke-linecap="round" fill="none"/>
<text x="1489.87" y="347.9" font-size="21.4" text-anchor="middle" transform="matrix(1 0 0 1.040 0 -13.92)">0</text>
<text x="1649.62" y="347.9" font-size="21.4" text-anchor="middle" transform="matrix(1 0 0 1.040 0 -13.92)">500</text>
<text x="1809.38" y="347.9" font-size="21.4" text-anchor="middle" transform="matrix(1 0 0 1.040 0 -13.92)">1000</text>
<text x="1969.13" y="347.9" font-size="21.4" text-anchor="middle" transform="matrix(1 0 0 1.040 0 -13.92)">1500</text>
<g transform="translate(1440.2 291.79) rotate(-90)"><text x="0" y="0" font-size="21.4" text-anchor="middle" transform="matrix(1 0 0 1.040 0 -0)">0</text></g>
<g transform="translate(1440.2 227.09) rotate(-90)"><text x="0" y="0" font-size="21.4" text-anchor="middle" transform="matrix(1 0 0 1.040 0 -0)">500</text></g>
<g transform="translate(1440.2 162.4) rotate(-90)"><text x="0" y="0" font-size="21.4" text-anchor="middle" transform="matrix(1 0 0 1.040 0 -0)">1000</text></g>
<g transform="translate(1440.2 97.7) rotate(-90)"><text x="0" y="0" font-size="21.4" text-anchor="middle" transform="matrix(1 0 0 1.040 0 -0)">1500</text></g>
<text x="1905.65" y="279.2" font-size="27.9" transform="matrix(1 0 0 1.040 0 -11.17)">Age 4</text>
<clipPath id="clipj"><rect x="1470.6" y="357.2" width="517.7" height="251.3"/></clipPath>
<rect x="1489.77" y="357.2" width="287.61" height="251.3" fill="#e6e7e8"/>
<polyline clip-path="url(#clipj)" points="1508.95,586.01 1528.12,575.04 1547.3,562.1 1566.47,549.01 1585.64,535.25 1604.82,520.75 1623.99,505.65 1643.17,489.5 1662.34,473.34 1681.51,456.7 1700.69,456.12 1719.86,456.12 1739.04,456.12 1758.21,456.12 1777.39,456.12 1796.56,456.12 1815.73,456.12 1834.91,456.12 1854.08,456.12 1873.26,456.12 1892.43,456.12 1911.6,456.12 1930.78,456.12 1949.95,456.12 1969.13,456.12" fill="none" stroke="#231f20" stroke-width="2.1" stroke-linejoin="round" stroke-linecap="round"/>
<rect x="1470.6" y="357.2" width="517.7" height="251.3" fill="none" stroke="#231f20" stroke-width="2.6"/>
<path d="M1489.77 608.5V622M1585.64 608.5V622M1681.51 608.5V622M1777.39 608.5V622M1873.26 608.5V622M1969.13 608.5V622M1470.6 599.19H1457.1M1470.6 534.52H1457.1M1470.6 469.85H1457.1M1470.6 405.18H1457.1" stroke="#231f20" stroke-width="2.4" stroke-linecap="round" fill="none"/>
<path d="M1470.6 608.5V615M1508.95 608.5V615M1528.12 608.5V615M1547.3 608.5V615M1566.47 608.5V615M1604.82 608.5V615M1623.99 608.5V615M1643.17 608.5V615M1662.34 608.5V615M1700.69 608.5V615M1719.86 608.5V615M1739.04 608.5V615M1758.21 608.5V615M1796.56 608.5V615M1815.73 608.5V615M1834.91 608.5V615M1854.08 608.5V615M1892.43 608.5V615M1911.6 608.5V615M1930.78 608.5V615M1949.95 608.5V615M1988.3 608.5V615M1470.6 566.86H1464.1M1470.6 502.19H1464.1M1470.6 437.52H1464.1M1470.6 372.85H1464.1" stroke="#231f20" stroke-width="1.7" stroke-linecap="round" fill="none"/>
<text x="1489.77" y="655.1" font-size="21.4" text-anchor="middle" transform="matrix(1 0 0 1.040 0 -26.2)">0</text>
<text x="1585.64" y="655.1" font-size="21.4" text-anchor="middle" transform="matrix(1 0 0 1.040 0 -26.2)">500</text>
<text x="1681.51" y="655.1" font-size="21.4" text-anchor="middle" transform="matrix(1 0 0 1.040 0 -26.2)">1000</text>
<text x="1777.39" y="655.1" font-size="21.4" text-anchor="middle" transform="matrix(1 0 0 1.040 0 -26.2)">1500</text>
<text x="1873.26" y="655.1" font-size="21.4" text-anchor="middle" transform="matrix(1 0 0 1.040 0 -26.2)">2000</text>
<text x="1969.13" y="655.1" font-size="21.4" text-anchor="middle" transform="matrix(1 0 0 1.040 0 -26.2)">2500</text>
<g transform="translate(1440.1 599.19) rotate(-90)"><text x="0" y="0" font-size="21.4" text-anchor="middle" transform="matrix(1 0 0 1.040 0 -0)">0</text></g>
<g transform="translate(1440.1 534.52) rotate(-90)"><text x="0" y="0" font-size="21.4" text-anchor="middle" transform="matrix(1 0 0 1.040 0 -0)">500</text></g>
<g transform="translate(1440.1 469.85) rotate(-90)"><text x="0" y="0" font-size="21.4" text-anchor="middle" transform="matrix(1 0 0 1.040 0 -0)">1000</text></g>
<g transform="translate(1440.1 405.18) rotate(-90)"><text x="0" y="0" font-size="21.4" text-anchor="middle" transform="matrix(1 0 0 1.040 0 -0)">1500</text></g>
<text x="1905.65" y="589.1" font-size="27.9" transform="matrix(1 0 0 1.040 0 -23.56)">Age 3</text>
<clipPath id="clipk"><rect x="1469.9" y="677.3" width="517.9" height="251.4"/></clipPath>
<rect x="1489.08" y="677.3" width="143.86" height="251.4" fill="#e6e7e8"/>
<polyline clip-path="url(#clipk)" points="1498.67,910.53 1508.26,905.12 1517.85,898.65 1527.44,892.6 1537.04,885.52 1546.63,878.15 1556.22,871.34 1565.81,863.54 1575.4,856.34 1584.99,848.27 1594.58,839.87 1604.17,831.95 1613.76,823.21 1623.35,815.08 1632.94,805.95 1642.53,796.56 1652.12,787.92 1661.71,778.28 1671.31,769.36 1680.9,759.38 1690.49,759.19 1700.08,759.19 1709.67,759.19 1719.26,759.19 1728.85,759.19 1738.44,759.19 1748.03,759.19 1757.62,759.19 1767.21,759.19 1776.8,759.19 1786.39,759.19 1795.99,759.19 1805.58,759.19 1815.17,759.19 1824.76,759.19 1834.35,759.19 1843.94,759.19 1853.53,759.19 1863.12,759.19 1872.71,759.19 1882.3,759.19 1891.89,759.19 1901.48,759.19 1911.07,759.19 1920.66,759.19 1930.26,759.19 1939.85,759.19 1949.44,759.19 1959.03,759.19 1968.62,759.19 1978.21,759.19 1987.8,759.19 1997.39,759.19 2006.98,759.19 2016.57,759.19" fill="none" stroke="#231f20" stroke-width="2.1" stroke-linejoin="round" stroke-linecap="round"/>
<rect x="1469.9" y="677.3" width="517.9" height="251.4" fill="none" stroke="#231f20" stroke-width="2.6"/>
<path d="M1489.08 928.7V942.2M1584.99 928.7V942.2M1680.9 928.7V942.2M1776.8 928.7V942.2M1872.71 928.7V942.2M1968.62 928.7V942.2M1469.9 919.39H1456.4M1469.9 854.69H1456.4M1469.9 790H1456.4M1469.9 725.3H1456.4" stroke="#231f20" stroke-width="2.4" stroke-linecap="round" fill="none"/>
<path d="M1469.9 928.7V935.2M1508.26 928.7V935.2M1527.44 928.7V935.2M1546.63 928.7V935.2M1565.81 928.7V935.2M1604.17 928.7V935.2M1623.35 928.7V935.2M1642.53 928.7V935.2M1661.71 928.7V935.2M1700.08 928.7V935.2M1719.26 928.7V935.2M1738.44 928.7V935.2M1757.62 928.7V935.2M1795.99 928.7V935.2M1815.17 928.7V935.2M1834.35 928.7V935.2M1853.53 928.7V935.2M1891.89 928.7V935.2M1911.07 928.7V935.2M1930.26 928.7V935.2M1949.44 928.7V935.2M1987.8 928.7V935.2M1469.9 887.04H1463.4M1469.9 822.34H1463.4M1469.9 757.65H1463.4M1469.9 692.95H1463.4" stroke="#231f20" stroke-width="1.7" stroke-linecap="round" fill="none"/>
<text x="1489.08" y="976.1" font-size="21.4" text-anchor="middle" transform="matrix(1 0 0 1.040 0 -39.04)">0</text>
<text x="1584.99" y="976.1" font-size="21.4" text-anchor="middle" transform="matrix(1 0 0 1.040 0 -39.04)">1000</text>
<text x="1680.9" y="976.1" font-size="21.4" text-anchor="middle" transform="matrix(1 0 0 1.040 0 -39.04)">2000</text>
<text x="1776.8" y="976.1" font-size="21.4" text-anchor="middle" transform="matrix(1 0 0 1.040 0 -39.04)">3000</text>
<text x="1872.71" y="976.1" font-size="21.4" text-anchor="middle" transform="matrix(1 0 0 1.040 0 -39.04)">4000</text>
<text x="1968.62" y="976.1" font-size="21.4" text-anchor="middle" transform="matrix(1 0 0 1.040 0 -39.04)">5000</text>
<g transform="translate(1439.4 919.39) rotate(-90)"><text x="0" y="0" font-size="21.4" text-anchor="middle" transform="matrix(1 0 0 1.040 0 -0)">0</text></g>
<g transform="translate(1439.4 854.69) rotate(-90)"><text x="0" y="0" font-size="21.4" text-anchor="middle" transform="matrix(1 0 0 1.040 0 -0)">500</text></g>
<g transform="translate(1439.4 790) rotate(-90)"><text x="0" y="0" font-size="21.4" text-anchor="middle" transform="matrix(1 0 0 1.040 0 -0)">1000</text></g>
<g transform="translate(1439.4 725.3) rotate(-90)"><text x="0" y="0" font-size="21.4" text-anchor="middle" transform="matrix(1 0 0 1.040 0 -0)">1500</text></g>
<text x="1906.65" y="905.8" font-size="27.9" transform="matrix(1 0 0 1.040 0 -36.23)">Age 2</text>
<clipPath id="clipl"><rect x="1470.4" y="990.9" width="517.6" height="251.4"/></clipPath>
<rect x="1489.57" y="990.9" width="71.89" height="251.4" fill="#e6e7e8"/>
<polyline clip-path="url(#clipl)" points="1494.36,1228.05 1499.16,1226.43 1503.95,1224.79 1508.74,1223.13 1513.53,1221.44 1518.33,1219.73 1523.12,1218 1527.91,1216.24 1532.7,1214.46 1537.5,1212.65 1542.29,1210.82 1547.08,1208.96 1551.87,1207.08 1556.67,1205.18 1561.46,1203.25 1566.25,1201.3 1571.04,1199.33 1575.84,1197.33 1580.63,1195.31 1585.42,1193.26 1590.21,1191.19 1595.01,1189.09 1599.8,1186.97 1604.59,1184.83 1609.39,1182.66 1614.18,1180.47 1618.97,1178.26 1623.76,1176.02 1628.56,1173.75 1633.35,1171.47 1638.14,1169.15 1642.93,1166.82 1647.73,1164.46 1652.52,1162.08 1657.31,1159.67 1662.1,1157.24 1666.9,1154.78 1671.69,1152.3 1676.48,1149.8 1681.27,1147.27 1686.07,1144.72 1690.86,1142.15 1695.65,1139.55 1700.44,1136.92 1705.24,1134.28 1710.03,1131.6 1714.82,1128.91 1719.61,1126.19 1724.41,1123.45 1729.2,1120.68 1733.99,1117.89 1738.79,1115.07 1743.58,1112.23 1748.37,1109.37 1753.16,1106.48 1757.96,1103.57 1762.75,1100.63 1767.54,1097.67 1772.33,1094.69 1777.13,1091.68 1781.92,1088.65 1786.71,1085.59 1791.5,1082.52 1796.3,1079.41 1801.09,1076.28 1805.88,1073.13 1810.67,1069.96 1815.47,1066.76 1820.26,1063.53 1825.05,1060.28 1829.84,1057.01 1834.64,1053.72 1839.43,1050.4 1844.22,1047.05 1849.01,1043.69 1853.81,1040.29 1858.6,1036.88 1863.39,1033.44 1868.19,1029.97 1872.98,1026.49 1877.77,1022.97 1882.56,1019.44 1887.36,1015.88 1892.15,1012.29 1896.94,1008.69 1901.73,1005.05 1906.53,1004.67 1911.32,1004.61 1916.11,1004.61 1920.9,1004.61 1925.7,1004.61 1930.49,1004.61 1935.28,1004.61 1940.07,1004.61 1944.87,1004.61 1949.66,1004.61 1954.45,1004.61 1959.24,1004.61 1964.04,1004.61 1968.83,1004.61 1973.62,1004.61 1978.41,1004.61 1983.21,1004.61 1988,1004.61 1992.79,1004.61" fill="none" stroke="#231f20" stroke-width="2.1" stroke-linejoin="round" stroke-linecap="round"/>
<rect x="1470.4" y="990.9" width="517.6" height="251.4" fill="none" stroke="#231f20" stroke-width="2.6"/>
<path d="M1489.57 1242.3V1255.8M1585.42 1242.3V1255.8M1681.27 1242.3V1255.8M1777.13 1242.3V1255.8M1872.98 1242.3V1255.8M1968.83 1242.3V1255.8M1470.4 1232.99H1456.9M1470.4 1168.29H1456.9M1470.4 1103.6H1456.9M1470.4 1038.9H1456.9" stroke="#231f20" stroke-width="2.4" stroke-linecap="round" fill="none"/>
<path d="M1470.4 1242.3V1248.8M1508.74 1242.3V1248.8M1527.91 1242.3V1248.8M1547.08 1242.3V1248.8M1566.25 1242.3V1248.8M1604.59 1242.3V1248.8M1623.76 1242.3V1248.8M1642.93 1242.3V1248.8M1662.1 1242.3V1248.8M1700.44 1242.3V1248.8M1719.61 1242.3V1248.8M1738.79 1242.3V1248.8M1757.96 1242.3V1248.8M1796.3 1242.3V1248.8M1815.47 1242.3V1248.8M1834.64 1242.3V1248.8M1853.81 1242.3V1248.8M1892.15 1242.3V1248.8M1911.32 1242.3V1248.8M1930.49 1242.3V1248.8M1949.66 1242.3V1248.8M1988 1242.3V1248.8M1470.4 1200.64H1463.9M1470.4 1135.94H1463.9M1470.4 1071.25H1463.9M1470.4 1006.55H1463.9" stroke="#231f20" stroke-width="1.7" stroke-linecap="round" fill="none"/>
<text x="1489.57" y="1288.8" font-size="21.4" text-anchor="middle" transform="matrix(1 0 0 1.040 0 -51.55)">0</text>
<text x="1585.42" y="1288.8" font-size="21.4" text-anchor="middle" transform="matrix(1 0 0 1.040 0 -51.55)">2000</text>
<text x="1681.27" y="1288.8" font-size="21.4" text-anchor="middle" transform="matrix(1 0 0 1.040 0 -51.55)">4000</text>
<text x="1777.13" y="1288.8" font-size="21.4" text-anchor="middle" transform="matrix(1 0 0 1.040 0 -51.55)">6000</text>
<text x="1872.98" y="1288.8" font-size="21.4" text-anchor="middle" transform="matrix(1 0 0 1.040 0 -51.55)">8000</text>
<text x="1968.83" y="1288.8" font-size="21.4" text-anchor="middle" transform="matrix(1 0 0 1.040 0 -51.55)">10000</text>
<g transform="translate(1439.9 1232.99) rotate(-90)"><text x="0" y="0" font-size="21.4" text-anchor="middle" transform="matrix(1 0 0 1.040 0 -0)">0</text></g>
<g transform="translate(1439.9 1168.29) rotate(-90)"><text x="0" y="0" font-size="21.4" text-anchor="middle" transform="matrix(1 0 0 1.040 0 -0)">500</text></g>
<g transform="translate(1439.9 1103.6) rotate(-90)"><text x="0" y="0" font-size="21.4" text-anchor="middle" transform="matrix(1 0 0 1.040 0 -0)">1000</text></g>
<g transform="translate(1439.9 1038.9) rotate(-90)"><text x="0" y="0" font-size="21.4" text-anchor="middle" transform="matrix(1 0 0 1.040 0 -0)">1500</text></g>
<text x="1906.65" y="1222.4" font-size="27.9" transform="matrix(1 0 0 1.040 0 -48.9)">Age 1</text>
<text x="-0.52" y="55.7" font-size="30.5" font-weight="bold" transform="matrix(1 0 0 1.040 0 -2.23)">a</text>
<text x="-0.8" y="372.8" font-size="30.5" font-weight="bold" transform="matrix(1 0 0 1.040 0 -14.91)">b</text>
<text x="-0.13" y="695.2" font-size="30.5" font-weight="bold" transform="matrix(1 0 0 1.040 0 -27.81)">c</text>
<text x="-1.44" y="1003.2" font-size="30.5" font-weight="bold" transform="matrix(1 0 0 1.040 0 -40.13)">d</text>
<text x="672.14" y="56.2" font-size="30.5" font-weight="bold" transform="matrix(1 0 0 1.040 0 -2.25)">e</text>
<text x="675.53" y="372.8" font-size="30.5" font-weight="bold" transform="matrix(1 0 0 1.040 0 -14.91)">f</text>
<text x="671.08" y="695" font-size="30.5" font-weight="bold" transform="matrix(1 0 0 1.040 0 -27.8)">g</text>
<text x="670.97" y="1002.8" font-size="30.5" font-weight="bold" transform="matrix(1 0 0 1.040 0 -40.11)">h</text>
<text x="1334.78" y="55.7" font-size="30.5" font-weight="bold" transform="matrix(1 0 0 1.040 0 -2.23)">i</text>
<text x="1336.07" y="372.6" font-size="30.5" font-weight="bold" transform="matrix(1 0 0 1.040 0 -14.9)">j</text>
<text x="1330.94" y="694.8" font-size="30.5" font-weight="bold" transform="matrix(1 0 0 1.040 0 -27.79)">k</text>
<text x="1334.88" y="1002.7" font-size="30.5" font-weight="bold" transform="matrix(1 0 0 1.040 0 -40.11)">l</text>
<text x="298.79" y="21" font-size="26" font-weight="bold" textLength="17.41" lengthAdjust="spacingAndGlyphs" transform="matrix(1 0 0 1.040 0 -0.84)">δ</text>
<text x="316.52" y="12" font-size="15.5" font-weight="bold" transform="matrix(1 0 0 1.040 0 -0.48)">13</text>
<text x="333.77" y="21" font-size="27.5" font-weight="bold" transform="matrix(1 0 0 1.040 0 -0.84)">C</text>
<text x="354.02" y="30.7" font-size="16.4" font-weight="bold" transform="matrix(1 0 0 1.040 0 -1.23)">source</text>
<text x="413.71" y="21" font-size="27.8" font-weight="bold" textLength="46.37" lengthAdjust="spacingAndGlyphs" transform="matrix(1 0 0 1.040 0 -0.84)">(‰)</text>
<text x="893.85" y="24.9" font-size="24.6" font-weight="bold" transform="matrix(1 0 0 1.040 0 -1)">Emission flux (Pg C yr</text>
<text x="1154.36" y="16.5" font-size="13.8" font-weight="bold" transform="matrix(1 0 0 1.040 0 -0.66)">-</text>
<text x="1160.23" y="16.5" font-size="13.8" font-weight="bold" transform="matrix(1 0 0 1.040 0 -0.66)">1</text>
<text x="1168.13" y="24.9" font-size="24.6" font-weight="bold" transform="matrix(1 0 0 1.040 0 -1)">)</text>
<text x="1575.99" y="20.7" font-size="24.6" font-weight="bold" textLength="339.24" lengthAdjust="spacingAndGlyphs" transform="matrix(1 0 0 1.040 0 -0.83)">Cumulative emissions (Pg C)</text>
<g transform="translate(48.5 239.6) rotate(-90)"><text x="-1.31" y="0" font-size="26.3" textLength="17.33" lengthAdjust="spacingAndGlyphs" transform="matrix(1 0 0 1.040 0 -0)">δ</text><text x="15.54" y="-10.4" font-size="16.5" transform="matrix(1 0 0 1.040 0 0.42)">13</text><text x="33.45" y="0" font-size="28.5" transform="matrix(1 0 0 1.040 0 -0)">C</text><text x="54.77" y="8.8" font-size="15.3" transform="matrix(1 0 0 1.040 0 -0.35)">source</text><text x="112.39" y="0" font-size="28" textLength="43.33" lengthAdjust="spacingAndGlyphs" transform="matrix(1 0 0 1.040 0 -0)">(‰)</text></g>
<g transform="translate(40 568.8) rotate(-90)"><text x="-1.31" y="0" font-size="26.3" textLength="17.33" lengthAdjust="spacingAndGlyphs" transform="matrix(1 0 0 1.040 0 -0)">δ</text><text x="15.54" y="-10.4" font-size="16.5" transform="matrix(1 0 0 1.040 0 0.42)">13</text><text x="33.45" y="0" font-size="28.5" transform="matrix(1 0 0 1.040 0 -0)">C</text><text x="54.77" y="8.8" font-size="15.3" transform="matrix(1 0 0 1.040 0 -0.35)">source</text><text x="112.97" y="0" font-size="28" textLength="43.55" lengthAdjust="spacingAndGlyphs" transform="matrix(1 0 0 1.040 0 -0)">(‰)</text></g>
<g transform="translate(47.3 897.2) rotate(-90)"><text x="-1.31" y="0" font-size="26.3" textLength="17.33" lengthAdjust="spacingAndGlyphs" transform="matrix(1 0 0 1.040 0 -0)">δ</text><text x="15.54" y="-10.4" font-size="16.5" transform="matrix(1 0 0 1.040 0 0.42)">13</text><text x="33.45" y="0" font-size="28.5" transform="matrix(1 0 0 1.040 0 -0)">C</text><text x="54.77" y="8.8" font-size="15.3" transform="matrix(1 0 0 1.040 0 -0.35)">source</text><text x="112.31" y="0" font-size="28" textLength="43.3" lengthAdjust="spacingAndGlyphs" transform="matrix(1 0 0 1.040 0 -0)">(‰)</text></g>
<g transform="translate(46.4 1201.6) rotate(-90)"><text x="-1.31" y="0" font-size="26.3" textLength="17.33" lengthAdjust="spacingAndGlyphs" transform="matrix(1 0 0 1.040 0 -0)">δ</text><text x="15.54" y="-10.4" font-size="16.5" transform="matrix(1 0 0 1.040 0 0.42)">13</text><text x="33.45" y="0" font-size="28.5" transform="matrix(1 0 0 1.040 0 -0)">C</text><text x="54.77" y="8.8" font-size="15.3" transform="matrix(1 0 0 1.040 0 -0.35)">source</text><text x="112.31" y="0" font-size="28" textLength="43.3" lengthAdjust="spacingAndGlyphs" transform="matrix(1 0 0 1.040 0 -0)">(‰)</text></g>
<g transform="translate(723.7 307.3) rotate(-90)"><text x="-2.02" y="0" font-size="24.6" transform="matrix(1 0 0 1.040 0 -0)">Emission flux (Pg C yr</text><text x="239.52" y="-7.8" font-size="13.8" transform="matrix(1 0 0 1.040 0 0.31)">-</text><text x="244.38" y="-7.8" font-size="13.8" transform="matrix(1 0 0 1.040 0 0.31)">1</text><text x="252.23" y="0" font-size="24.6" transform="matrix(1 0 0 1.040 0 -0)">)</text></g>
<g transform="translate(724 614) rotate(-90)"><text x="-2.02" y="0" font-size="24.6" transform="matrix(1 0 0 1.040 0 -0)">Emission flux (Pg C yr</text><text x="239.52" y="-7.8" font-size="13.8" transform="matrix(1 0 0 1.040 0 0.31)">-</text><text x="244.38" y="-7.8" font-size="13.8" transform="matrix(1 0 0 1.040 0 0.31)">1</text><text x="253.23" y="0" font-size="24.6" transform="matrix(1 0 0 1.040 0 -0)">)</text></g>
<g transform="translate(724 942.2) rotate(-90)"><text x="-2.02" y="0" font-size="24.6" transform="matrix(1 0 0 1.040 0 -0)">Emission flux (Pg C yr</text><text x="239.52" y="-7.8" font-size="13.8" transform="matrix(1 0 0 1.040 0 0.31)">-</text><text x="244.38" y="-7.8" font-size="13.8" transform="matrix(1 0 0 1.040 0 0.31)">1</text><text x="252.13" y="0" font-size="24.6" transform="matrix(1 0 0 1.040 0 -0)">)</text></g>
<g transform="translate(724 1246.8) rotate(-90)"><text x="-2.02" y="0" font-size="24.6" transform="matrix(1 0 0 1.040 0 -0)">Emission flux (Pg C yr</text><text x="239.52" y="-7.8" font-size="13.8" transform="matrix(1 0 0 1.040 0 0.31)">-</text><text x="244.38" y="-7.8" font-size="13.8" transform="matrix(1 0 0 1.040 0 0.31)">1</text><text x="253.23" y="0" font-size="24.6" transform="matrix(1 0 0 1.040 0 -0)">)</text></g>
<g transform="translate(1376.8 297.2) rotate(-90)"><text x="-1.25" y="0" font-size="24.6" textLength="239.44" lengthAdjust="spacingAndGlyphs" transform="matrix(1 0 0 1.040 0 -0)">Cumulative emissions</text></g>
<g transform="translate(1405.4 207.3) rotate(-90)"><text x="-1.48" y="0" font-size="24.6" textLength="68.86" lengthAdjust="spacingAndGlyphs" transform="matrix(1 0 0 1.040 0 -0)">(Pg C)</text></g>
<g transform="translate(1376.8 604.2) rotate(-90)"><text x="-1.26" y="0" font-size="24.6" textLength="241.26" lengthAdjust="spacingAndGlyphs" transform="matrix(1 0 0 1.040 0 -0)">Cumulative emissions</text></g>
<g transform="translate(1405.4 515.6) rotate(-90)"><text x="-1.54" y="0" font-size="24.6" textLength="71.68" lengthAdjust="spacingAndGlyphs" transform="matrix(1 0 0 1.040 0 -0)">(Pg C)</text></g>
<g transform="translate(1376.8 925.8) rotate(-90)"><text x="-1.26" y="0" font-size="24.6" textLength="241.16" lengthAdjust="spacingAndGlyphs" transform="matrix(1 0 0 1.040 0 -0)">Cumulative emissions</text></g>
<g transform="translate(1405.4 837.2) rotate(-90)"><text x="-1.54" y="0" font-size="24.6" textLength="71.57" lengthAdjust="spacingAndGlyphs" transform="matrix(1 0 0 1.040 0 -0)">(Pg C)</text></g>
<g transform="translate(1376.8 1230.8) rotate(-90)"><text x="-1.25" y="0" font-size="24.6" textLength="239.54" lengthAdjust="spacingAndGlyphs" transform="matrix(1 0 0 1.040 0 -0)">Cumulative emissions</text></g>
<g transform="translate(1405.4 1143.8) rotate(-90)"><text x="-1.54" y="0" font-size="24.6" textLength="71.57" lengthAdjust="spacingAndGlyphs" transform="matrix(1 0 0 1.040 0 -0)">(Pg C)</text></g>
<text x="194.38" y="1332.8" font-size="27.5" textLength="407.92" lengthAdjust="spacingAndGlyphs" transform="matrix(1 0 0 1.040 0 -53.31)">Time (Years from the POE onset)</text>
<text x="837.98" y="1332.7" font-size="27.5" textLength="407.92" lengthAdjust="spacingAndGlyphs" transform="matrix(1 0 0 1.040 0 -53.31)">Time (Years from the POE onset)</text>
<text x="1527.98" y="1332.7" font-size="27.5" textLength="407.92" lengthAdjust="spacingAndGlyphs" transform="matrix(1 0 0 1.040 0 -53.31)">Time (Years from the POE onset)</text>
</svg>
</body></html>
